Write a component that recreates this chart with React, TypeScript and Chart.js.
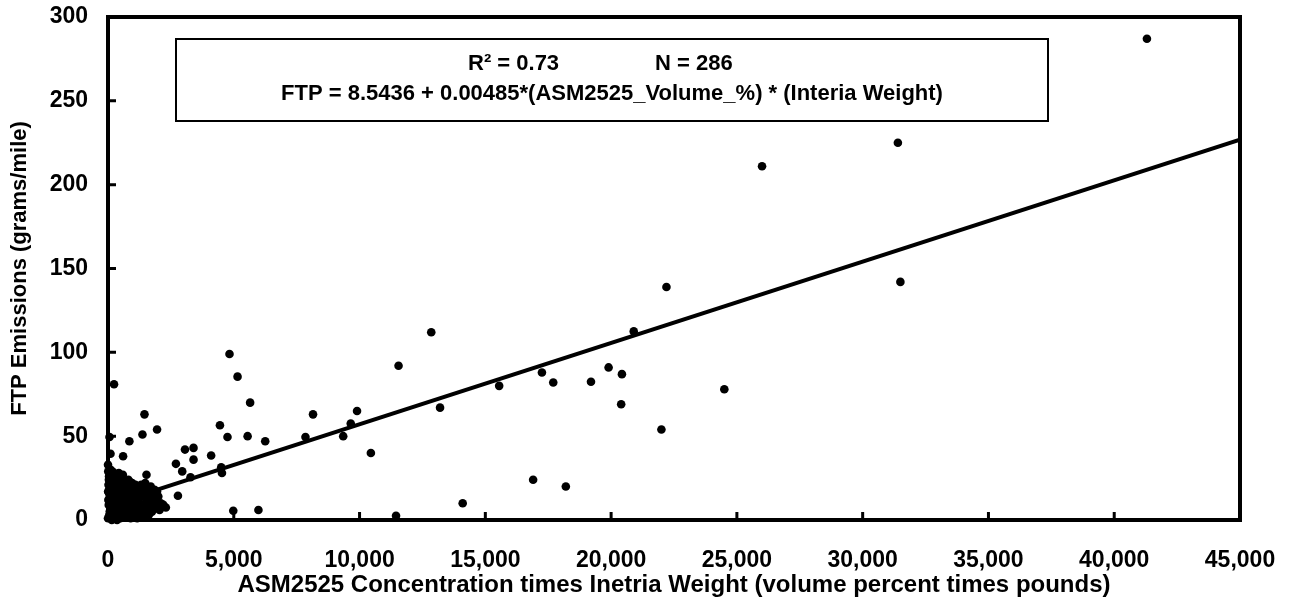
import React, { useEffect, useRef } from 'react';
import { Chart, registerables } from 'chart.js';

Chart.register(...registerables);

// Scattered observations (ASM2525 x inertia weight, FTP g/mile)
const SCATTER_X = [41300, 31400, 31500, 26000, 22200, 24500, 22000, 20900, 20430, 20400, 19900, 19200, 17700, 17250, 15550, 16900, 18200, 14100, 12850, 13200, 11550, 11450, 10450, 9900, 9650, 9350, 8150, 7850, 6250, 5650, 5150, 4830, 4750, 5550, 4450, 4500, 4530, 4100, 3400, 3400, 3060, 2700, 2950, 3280, 2780, 2300, 1670, 4980, 5980, 1450, 1950, 1370, 850, 600, 240, 1530, 60, 100];
const SCATTER_Y = [287, 225, 142, 211, 139, 78, 54, 112.5, 87, 69, 91, 82.5, 82, 88, 80, 24, 20, 10, 112, 67, 92, 2.5, 40, 65, 57.5, 50, 63, 49.5, 47, 70, 85.5, 99, 49.5, 50, 56.5, 31.5, 28, 38.5, 43, 36, 42, 33.5, 29, 25.5, 14.5, 7.5, 4.5, 5.5, 6, 63, 54, 51, 47, 38, 81, 27, 49.5, 39.5];

// Dense cluster of observations near the origin
const CLUSTER_X = [0, 50, 120, 30, 200, 80, 160, 20, 250, 100, 10, 180, 260, 60, 140, 300, 220, 40, 280, 90, 0, 150, 5, 240,
  350, 420, 500, 380, 460, 550, 600, 640, 520, 400, 330, 580, 680, 480, 360, 620, 440, 560, 700, 320, 510, 650, 590,
  750, 800, 860, 920, 780, 980, 1050, 1100, 850, 1000, 1150, 900, 1200, 720, 1080, 950, 830, 1180, 760, 1020, 880, 1130,
  1270, 1350, 1420, 1537, 1600, 1700, 1800, 1900, 2000, 2100, 1250, 1450, 1650, 1750, 1320, 1550, 1850, 2199, 1400, 1950, 1480, 1620,
  70, 130, 190, 110, 170, 230, 270, 210, 130, 60, 200, 290, 15, 45, 75, 105, 165, 35,
  410, 470, 530, 390, 450, 540, 610, 670, 430, 370, 490, 630, 570, 690, 350,
  730, 790, 840, 890, 940, 990, 1040, 1090, 1140, 1190, 870, 960, 810, 1060, 1230, 1160,
  1300, 1380, 1440, 1510, 1580, 1680, 1780, 1880, 2050, 1330, 1720, 1470];
const CLUSTER_Y = [1, 3, 6, 9, 12, 15, 18, 21, 24, 27, 29, 4, 8, 13, 22, 2, 16, 26, 19, 10, 33, 0, 17, 28,
  5, 9, 13, 17, 21, 2, 7, 11, 16, 24, 12, 19, 4, 26, 0, 23, 14, 10, 15, 20, 6, 18, 27,
  3, 8, 12, 17, 20, 6, 10, 14, 23, 21, 4, 1, 9, 11, 18, 15, 5, 19, 16, 2, 20, 7,
  10, 4, 14, 19, 9, 20, 13, 7, 14, 10, 17, 2, 16, 5, 21, 12, 18, 9, 7, 17, 22, 3,
  5, 2, 9, 12, 14, 3, 13, 20, 25, 19, 26, 6, 12, 16, 23, 30, 29, 24,
  3, 7, 9, 11, 18, 23, 15, 8, 28, 22, 1, 2, 14, 21, 26,
  7, 13, 18, 9, 11, 17, 5, 21, 12, 15, 3, 22, 24, 14, 6, 1,
  14, 18, 9, 6, 16, 11, 16, 11, 6, 8, 8, 17];

// Regression line end points (FTP = 8.5436 + 0.00485 * x)
const FIT_X = [0, 45000];
const FIT_Y = [8.54, 226.8];

const X_TITLE = 'ASM2525 Concentration times Inetria Weight (volume percent times pounds)';
const Y_TITLE = 'FTP Emissions (grams/mile)';
const R2_TEXT = 'R² = 0.73';
const N_TEXT = 'N = 286';
const EQ_TEXT = 'FTP = 8.5436 + 0.00485*(ASM2525_Volume_%) * (Interia Weight)';

const FONT = '"Liberation Sans", Arial, Helvetica, sans-serif';

const framePlugin = {
  id: 'frameAndNotes',
  afterDatasetsDraw(chart: any) {
    const { ctx, chartArea: a, scales } = chart;
    ctx.save();
    ctx.strokeStyle = '#000';
    ctx.lineWidth = 4;
    ctx.strokeRect(a.left, a.top, a.right - a.left, a.bottom - a.top);
    // inward tick marks
    ctx.lineWidth = 3;
    ctx.beginPath();
    scales.x.ticks.forEach((t: any) => {
      const px = scales.x.getPixelForValue(t.value);
      ctx.moveTo(px, a.bottom);
      ctx.lineTo(px, a.bottom - 8);
    });
    scales.y.ticks.forEach((t: any) => {
      const py = scales.y.getPixelForValue(t.value);
      ctx.moveTo(a.left, py);
      ctx.lineTo(a.left + 8, py);
    });
    ctx.stroke();
    // annotation box
    const bx = 176, by = 39, bw = 872, bh = 82;
    ctx.fillStyle = '#fff';
    ctx.fillRect(bx, by, bw, bh);
    ctx.lineWidth = 2;
    ctx.strokeRect(bx, by, bw, bh);
    ctx.fillStyle = '#000';
    ctx.font = `bold 22px ${FONT}`;
    ctx.textBaseline = 'middle';
    ctx.textAlign = 'left';
    ctx.fillText(R2_TEXT, 468, 64);
    ctx.fillText(N_TEXT, 655, 64);
    ctx.textAlign = 'center';
    ctx.fillText(EQ_TEXT, bx + bw / 2, 94);
    ctx.restore();
  },
};

const zeroPad = (s: any) => {
  s.paddingTop = 0;
  s.paddingBottom = 0;
  s.paddingLeft = 0;
  s.paddingRight = 0;
};

export default function App() {
  const ref = useRef<HTMLCanvasElement>(null);

  useEffect(() => {
    if (!ref.current) return;
    const points = [
      ...SCATTER_X.map((x, i) => ({ x, y: SCATTER_Y[i] })),
      ...CLUSTER_X.map((x, i) => ({ x, y: CLUSTER_Y[i] })),
    ];
    const fit = FIT_X.map((x, i) => ({ x, y: FIT_Y[i] }));
    const tickFont = { family: FONT, size: 23, weight: 'bold' as const };
    const chart = new Chart(ref.current, {
      type: 'scatter',
      data: {
        datasets: [
          {
            type: 'line',
            data: fit,
            borderColor: '#000',
            borderWidth: 4,
            pointRadius: 0,
            fill: false,
          } as any,
          {
            type: 'scatter',
            data: points,
            backgroundColor: '#000',
            borderWidth: 0,
            pointRadius: 4.3,
            clip: false,
          } as any,
        ],
      },
      options: {
        animation: false,
        responsive: false,
        events: [],
        layout: { padding: { top: 17, right: 49, left: 0, bottom: 0 } },
        plugins: { legend: { display: false }, tooltip: { enabled: false } },
        scales: {
          x: {
            type: 'linear',
            position: 'bottom',
            min: 0,
            max: 45000,
            grid: { display: false, drawTicks: false },
            border: { display: false },
            ticks: {
              stepSize: 5000,
              autoSkip: false,
              maxRotation: 0,
              color: '#000',
              font: tickFont,
              padding: 27,
              callback: (v: any) => Number(v).toLocaleString('en-US'),
            },
            title: {
              display: true,
              text: X_TITLE,
              color: '#000',
              font: { family: FONT, size: 24, weight: 'bold' as const },
              padding: { top: 0, bottom: 0 },
            },
            afterFit: (s: any) => { s.height = 80; zeroPad(s); },
          },
          y: {
            type: 'linear',
            min: 0,
            max: 300,
            grid: { display: false, drawTicks: false },
            border: { display: false },
            ticks: { stepSize: 50, color: '#000', font: tickFont, padding: 20 },
            title: {
              display: true,
              text: Y_TITLE,
              color: '#000',
              font: { family: FONT, size: 22, weight: 'bold' as const },
              padding: { top: 7, bottom: 0 },
            },
            afterFit: (s: any) => { s.width = 108; zeroPad(s); },
          },
        },
      },
      plugins: [framePlugin],
    });
    return () => chart.destroy();
  }, []);

  return (
    <div style={{ position: 'absolute', left: 0, top: 0, width: 1289, height: 600, background: '#fff' }}>
      <canvas ref={ref} width={1289} height={600} />
    </div>
  );
}
